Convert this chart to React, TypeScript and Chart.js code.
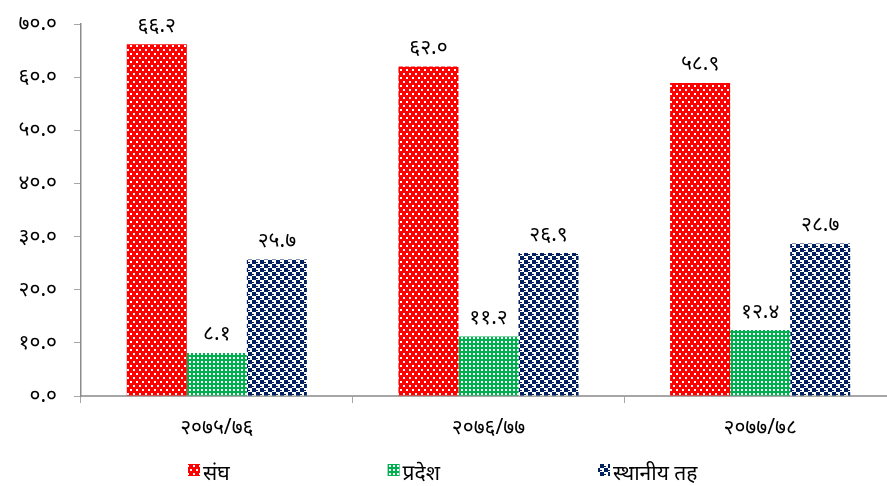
import React, { useEffect, useRef } from "react";
import { Chart, registerables } from "chart.js";

Chart.register(...registerables);

const categories = ["२०७५/७६", "२०७६/७७", "२०७७/७८"];
const seriesNames = ["संघ", "प्रदेश", "स्थानीय तह"];
const sanghValues = [66.2, 62.0, 58.9];
const pradeshValues = [8.1, 11.2, 12.4];
const sthaniyaValues = [25.7, 26.9, 28.7];
const yTicks = [0, 10, 20, 30, 40, 50, 60, 70];

const DEV = ["०", "१", "२", "३", "४", "५", "६", "७", "८", "९"];
const toDev = (s: string) => s.replace(/[0-9]/g, (d) => DEV[+d]);

const FONT = "'Noto Sans', 'DejaVu Sans', sans-serif";
const FS = 21;

function makePattern(kind: string): CanvasPattern | string {
  const c = document.createElement("canvas");
  const ctx = c.getContext("2d")!;
  if (kind === "red") {
    c.width = 6; c.height = 8;
    ctx.fillStyle = "#FF0000"; ctx.fillRect(0, 0, 6, 8);
    ctx.fillStyle = "#FFFFFF";
    ctx.fillRect(1, 1, 2, 2);
    ctx.fillRect(4, 5, 2, 2);
  } else if (kind === "green") {
    c.width = 4; c.height = 4;
    ctx.fillStyle = "#00B050"; ctx.fillRect(0, 0, 4, 4);
    ctx.fillStyle = "#FFFFFF";
    ctx.fillRect(1, 1, 2, 2);
  } else {
    c.width = 8; c.height = 8;
    ctx.fillStyle = "#FFFFFF"; ctx.fillRect(0, 0, 8, 8);
    ctx.fillStyle = "#002060";
    ctx.fillRect(0, 0, 4, 4);
    ctx.fillRect(4, 4, 4, 4);
    ctx.fillRect(4, 2, 2, 1);
    ctx.fillRect(0, 6, 2, 1);
  }
  const p = ctx.createPattern(c, "repeat");
  return p || "#000";
}

export default function App() {
  const ref = useRef<HTMLCanvasElement | null>(null);
  useEffect(() => {
    const canvas = ref.current!;
    const fills = [makePattern("red"), makePattern("green"), makePattern("navy")];

    const labelPlugin = {
      id: "barLabels",
      afterDatasetsDraw(chart: any) {
        const ctx = chart.ctx;
        ctx.save();
        ctx.font = `${FS}px ${FONT}`;
        ctx.fillStyle = "#000";
        ctx.textAlign = "center";
        ctx.textBaseline = "bottom";
        chart.data.datasets.forEach((ds: any, i: number) => {
          const meta = chart.getDatasetMeta(i);
          meta.data.forEach((el: any, j: number) => {
            ctx.fillText(toDev(Number(ds.data[j]).toFixed(1)), el.x, el.y - 8);
          });
        });
        ctx.restore();
      },
    };

    const legendPlugin = {
      id: "customLegend",
      afterDraw(chart: any) {
        const ctx = chart.ctx;
        ctx.save();
        ctx.font = `${FS}px ${FONT}`;
        ctx.textBaseline = "middle";
        ctx.textAlign = "left";
        let x = 188;
        const y = 474;
        const box = 12;
        chart.data.datasets.forEach((ds: any) => {
          ctx.fillStyle = ds.backgroundColor;
          ctx.fillRect(x, y - box / 2 - 4, box, box);
          ctx.fillStyle = "#000";
          ctx.fillText(ds.label, x + box + 3, y);
          x += box + 3 + ctx.measureText(ds.label).width + 158;
        });
        ctx.restore();
      },
    };

    const chart = new Chart(canvas, {
      type: "bar",
      data: {
        labels: categories,
        datasets: [
          { label: seriesNames[0], data: sanghValues, backgroundColor: fills[0] as any },
          { label: seriesNames[1], data: pradeshValues, backgroundColor: fills[1] as any },
          { label: seriesNames[2], data: sthaniyaValues, backgroundColor: fills[2] as any },
        ],
      },
      options: {
        responsive: false,
        animation: false,
        devicePixelRatio: 1,
        layout: { padding: { top: 24, right: 9, left: 0, bottom: 0 } },
        datasets: { bar: { categoryPercentage: 0.663, barPercentage: 1.0 } },
        plugins: { legend: { display: false }, tooltip: { enabled: false }, title: { display: false } },
        scales: {
          x: {
            grid: { display: true, offset: true, drawOnChartArea: false, drawTicks: true, tickLength: 7, color: "#A6A6A6" },
            border: { display: true, color: "#A6A6A6", width: 2 },
            ticks: { font: { family: FONT, size: FS }, color: "#000", padding: 12 },
            afterFit(scale: any) { scale.height = 90; scale.paddingLeft = 0; scale.paddingRight = 0; },
          },
          y: {
            min: 0,
            max: 70,
            afterBuildTicks(scale: any) { scale.ticks = yTicks.map((v) => ({ value: v })); },
            grid: { display: true, drawOnChartArea: false, drawTicks: true, tickLength: 7, color: "#A6A6A6" },
            border: { display: true, color: "#8C8C8C", width: 1.5 },
            ticks: {
              font: { family: FONT, size: FS },
              color: "#000",
              padding: 17,
              callback: (v: any) => toDev(Number(v).toFixed(1)),
            },
            afterFit(scale: any) { scale.width = 81; scale.paddingTop = 0; scale.paddingBottom = 0; },
          },
        },
      },
      plugins: [labelPlugin, legendPlugin],
    });
    return () => chart.destroy();
  }, []);

  return (
    <div style={{ position: "fixed", left: 0, top: 0, width: 887, height: 486, overflow: "hidden", background: "#fff" }}>
      <canvas ref={ref} width={905} height={486} style={{ width: 905, height: 486, display: "block" }} />
    </div>
  );
}
